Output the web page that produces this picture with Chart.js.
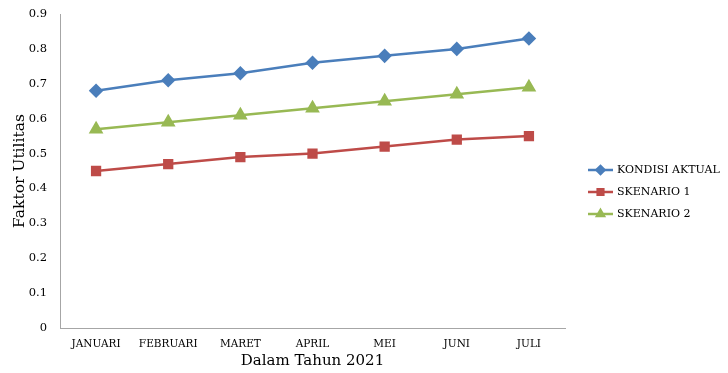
<!DOCTYPE html>
<html lang="id">
<head>
    <meta charset="UTF-8">
    <title>Faktor Utilitas 2021</title>
    <script src="https://cdn.jsdelivr.net/npm/chart.js"></script>
    <style>
        html, body { margin: 0; padding: 0; background: #fff; }
        .canvas-container { width: 728px; height: 373px; }
    </style>
</head>
<body>
<div class="canvas-container">
    <canvas id="myChart"></canvas>
</div>
<script>
  const months = ['JANUARI', 'FEBRUARI', 'MARET', 'APRIL', 'MEI', 'JUNI', 'JULI'];
  const kondisiAktual = [0.68, 0.71, 0.73, 0.76, 0.78, 0.80, 0.83];
  const skenario1 = [0.45, 0.47, 0.49, 0.50, 0.52, 0.54, 0.55];
  const skenario2 = [0.57, 0.59, 0.61, 0.63, 0.65, 0.67, 0.69];

  const serif = "'DejaVu Serif', 'Liberation Serif', serif";

  // legend on the right: short line with the marker on it, like the original
  const lineLegend = {
    id: 'lineLegend',
    afterDraw(chart) {
      const ctx = chart.ctx;
      const x0 = 588, y0 = 170, gap = 22;
      chart.data.datasets.forEach((ds, i) => {
        const y = y0 + i * gap;
        ctx.save();
        ctx.strokeStyle = ds.borderColor;
        ctx.lineWidth = 2.5;
        ctx.beginPath();
        ctx.moveTo(x0, y);
        ctx.lineTo(x0 + 25, y);
        ctx.stroke();
        Chart.helpers.drawPoint(ctx, {
          pointStyle: ds.pointStyle,
          radius: 4,
          borderWidth: 1
        }, x0 + 12.5, y);
        ctx.fillStyle = ds.borderColor;
        ctx.fill();
        ctx.fillStyle = '#000';
        ctx.font = '11px ' + serif;
        ctx.textBaseline = 'middle';
        ctx.fillText(ds.label, x0 + 29, y);
        ctx.restore();
      });
    }
  };

  var ctx = document.getElementById('myChart').getContext('2d');
  var myChart = new Chart(ctx, {
    type: 'line',
    data: {
      labels: months,
      datasets: [{
        label: 'KONDISI AKTUAL',
        data: kondisiAktual,
        borderColor: '#4a7ebb',
        backgroundColor: '#4a7ebb',
        borderWidth: 2.5,
        pointStyle: 'rectRot',
        pointRadius: 5.5
      }, {
        label: 'SKENARIO 1',
        data: skenario1,
        borderColor: '#be4b48',
        backgroundColor: '#be4b48',
        borderWidth: 2.5,
        pointStyle: 'rect',
        pointRadius: 5.5
      }, {
        label: 'SKENARIO 2',
        data: skenario2,
        borderColor: '#98b954',
        backgroundColor: '#98b954',
        borderWidth: 2.5,
        pointStyle: 'triangle',
        pointRadius: 6
      }]
    },
    options: {
      responsive: true,
      maintainAspectRatio: false,
      animation: false,
      layout: { padding: { top: 14, right: 163, left: 0, bottom: 0 } },
      plugins: {
        legend: { display: false },
        tooltip: { enabled: false }
      },
      scales: {
        x: {
          offset: true,
          grid: { display: false, drawTicks: false, offset: true },
          border: { display: true, color: '#a6a6a6', width: 1 },
          ticks: { color: '#000', font: { family: serif, size: 10.5 }, padding: 10, maxRotation: 0 },
          title: {
            display: true,
            text: 'Dalam Tahun 2021',
            color: '#000',
            font: { family: serif, size: 15 },
            padding: { top: 0, bottom: 3 }
          },
          afterFit(scale) { scale.height = 45; }
        },
        y: {
          min: 0,
          max: 0.9,
          grid: { display: false, drawTicks: false },
          border: { display: true, color: '#a6a6a6', width: 1 },
          ticks: {
            stepSize: 0.1,
            color: '#000',
            font: { family: serif, size: 11.5 },
            padding: 13,
            callback: v => (Math.round(v * 10) / 10).toString()
          },
          title: {
            display: true,
            text: 'Faktor Utilitas',
            color: '#000',
            font: { family: serif, size: 15.5 },
            padding: { top: 11, bottom: 4 }
          },
          afterFit(scale) {
            scale.width = 60;
            scale.paddingTop = 7;
            scale.paddingBottom = 7;
          }
        }
      }
    },
    plugins: [lineLegend]
  });
</script>
</body>
</html>
